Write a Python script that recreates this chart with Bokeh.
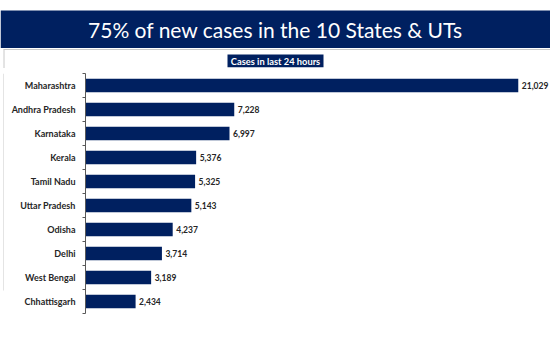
from bokeh.plotting import figure
from bokeh.layouts import column, row
from bokeh.models import Range1d, FixedTicker, ColumnDataSource
from bokeh.core.properties import value
from bokeh.embed import file_html
from bokeh.resources import INLINE

# ---- data ----
states = ["Maharashtra", "Andhra Pradesh", "Karnataka", "Kerala", "Tamil Nadu",
          "Uttar Pradesh", "Odisha", "Delhi", "West Bengal", "Chhattisgarh"]
cases = [21029, 7228, 6997, 5376, 5325, 5143, 4237, 3714, 3189, 2434]
title_text = "75% of new cases in the 10 States & UTs"
subtitle_text = "Cases in last 24 hours"

NAVY = "#002060"
GREY = "#c8c8c8"
LABEL = "#262626"

# ---- header (banner + subtitle box) in pixel-like coordinates ----
hdr = figure(width=550, height=68, x_range=Range1d(0, 550), y_range=Range1d(68, 0),
             min_border=0, min_border_left=0, min_border_right=0, min_border_top=0,
             min_border_bottom=0, toolbar_location=None, output_backend="svg",
             x_axis_type=None, y_axis_type=None, outline_line_color=None,
             background_fill_color="white", border_fill_color="white")
hdr.grid.visible = False
hdr.quad(left=[0], right=[550], top=[10], bottom=[47.5], fill_color=NAVY, line_color=None)
hdr.segment(x0=[3], y0=[49], x1=[550], y1=[49], line_color=GREY, line_width=1)
hdr.segment(x0=[3.5], y0=[49], x1=[3.5], y1=[68], line_color=GREY, line_width=1)
hdr.text(x=[275], y=[29], text=[title_text], text_align="center", text_baseline="middle",
         text_font=value("Lato"), text_font_size="21px", text_color="white")
hdr.quad(left=[227], right=[323], top=[54], bottom=[66.7], fill_color=NAVY, line_color=None)
hdr.text(x=[275], y=[60.5], text=[subtitle_text], text_align="center", text_baseline="middle",
         text_font=value("Lato"), text_font_style="bold", text_font_size="9.3px",
         text_color="white")

# ---- left slide border ----
lb = figure(width=4, height=282, x_range=Range1d(0, 4), y_range=Range1d(282, 0),
            min_border=0, min_border_left=0, min_border_right=0, min_border_top=0,
            min_border_bottom=0, toolbar_location=None, output_backend="svg",
            x_axis_type=None, y_axis_type=None, outline_line_color=None,
            background_fill_color="white", border_fill_color="white")
lb.grid.visible = False
lb.segment(x0=[3.5], y0=[0], x1=[3.5], y1=[255], line_color=GREY, line_width=1)

# ---- main bar chart ----
n = len(states)
centers = [i + 0.5 for i in range(n)]
bounds = [float(i) for i in range(n + 1)]
src = ColumnDataSource(dict(y=centers, x=cases, label=[f"{v:,}" for v in cases]))

p = figure(width=546, height=282, x_range=Range1d(0, 22595), y_range=Range1d(n, 0),
           min_border_left=81, min_border_right=0, min_border_top=5, min_border_bottom=37,
           toolbar_location=None, output_backend="svg", outline_line_color=None,
           background_fill_color="white", border_fill_color="white")
p.grid.visible = False
p.xaxis.visible = False

p.hbar(y="y", right="x", left=0, height=0.56, source=src, fill_color=NAVY, line_color=None)
p.text(x="x", y="y", text="label", source=src, x_offset=3.5, text_align="left",
       text_baseline="middle", text_font=value("Lato"), text_font_style="bold",
       text_font_size="8.5px", text_color=LABEL)

ax = p.yaxis[0]
ax.ticker = FixedTicker(ticks=centers, minor_ticks=bounds)
ax.major_label_overrides = {c: s for c, s in zip(centers, states)}
ax.major_tick_line_color = None
ax.major_tick_out = 0
ax.major_tick_in = 0
ax.minor_tick_out = 3
ax.minor_tick_in = 0
ax.minor_tick_line_color = "#595959"
ax.axis_line_color = "#595959"
ax.major_label_text_font = "Lato"
ax.major_label_text_font_style = "bold"
ax.major_label_text_font_size = "9px"
ax.major_label_text_color = LABEL
ax.major_label_standoff = 7

layout = column(hdr, row(lb, p))
open("out.html", "w").write(file_html(layout, INLINE))
